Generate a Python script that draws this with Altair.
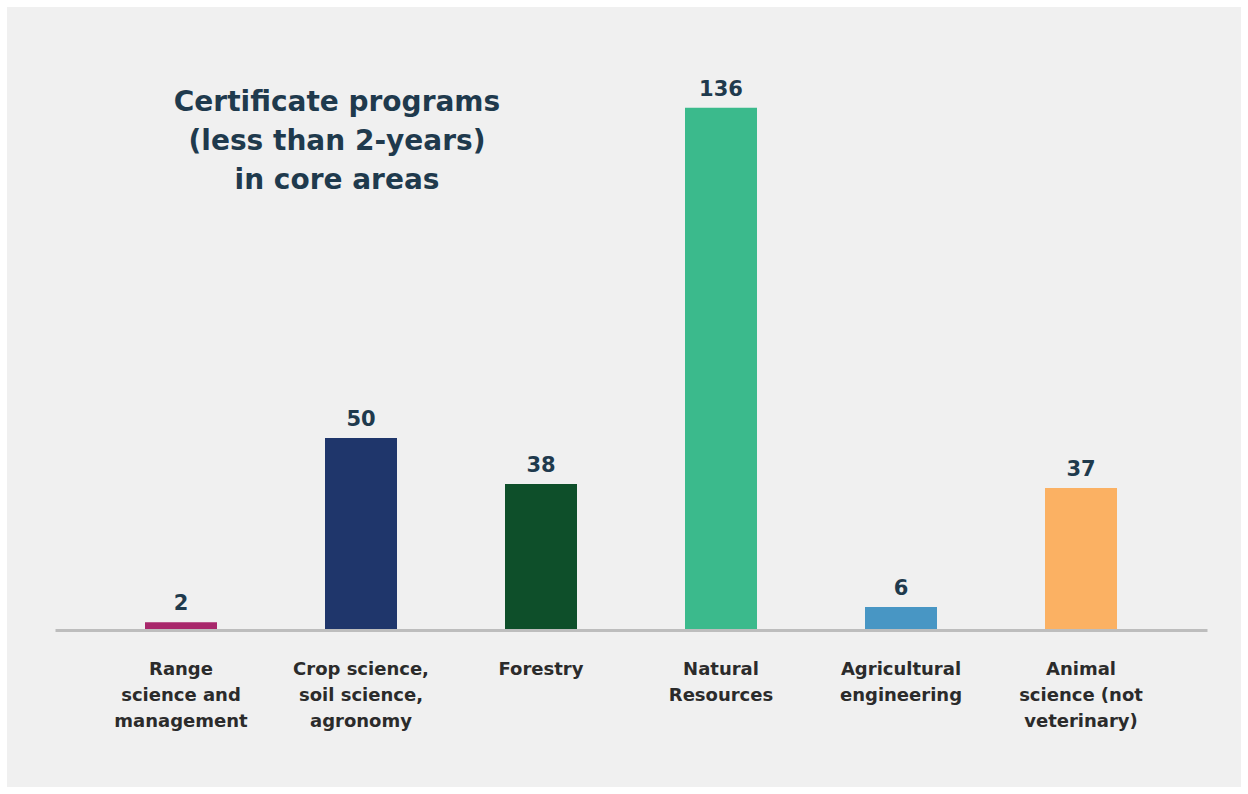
import altair as alt
import pandas as pd

categories = [
    "Range\nscience and\nmanagement",
    "Crop science,\nsoil science,\nagronomy",
    "Forestry",
    "Natural\nResources",
    "Agricultural\nengineering",
    "Animal\nscience (not\nveterinary)",
]
values = [2, 50, 38, 136, 6, 37]
colors = ["#a8276b", "#1f366b", "#0e4f2a", "#3bba8c", "#4896c4", "#fbb163"]
title_lines = ["Certificate programs", "(less than 2-years)", "in core areas"]

df = pd.DataFrame({"category": categories, "value": values, "color": colors})

FONT = "DejaVu Sans"
NAVY = "#1f3a4d"

panel = alt.Chart(pd.DataFrame({"a": [0]})).mark_rect(color="#f0f0f0").encode(
    x=alt.value(-48), x2=alt.value(1186), y=alt.value(-47), y2=alt.value(733)
)

x_enc = alt.X(
    "category:N",
    sort=categories,
    scale=alt.Scale(paddingInner=0.6, paddingOuter=0.5),
    axis=alt.Axis(
        title=None,
        labelExpr="split(datum.value, '\\n')",
        labelAngle=0,
        labelFont=FONT,
        labelFontSize=18,
        labelFontWeight="bold",
        labelColor="#2b2b2b",
        labelLineHeight=26,
        labelPadding=30,
        labelBaseline="top",
        ticks=False,
        domainColor="#bdbdbd",
        domainWidth=3,
        grid=False,
        labelLimit=300,
        zindex=1,
    ),
)
y_enc = alt.Y("value:Q", scale=alt.Scale(domain=[0, 150], nice=False), axis=None)

base = alt.Chart(df).encode(x=x_enc, y=y_enc)

bars = base.mark_bar().encode(color=alt.Color("color:N", scale=None))

labels = base.mark_text(
    font=FONT, fontSize=21, fontWeight="bold", color=NAVY, baseline="bottom", dy=-8
).encode(text="value:Q")

title = alt.Chart(pd.DataFrame({"a": [0]})).mark_text(
    text=title_lines,
    font=FONT,
    fontSize=28,
    fontWeight="bold",
    color=NAVY,
    align="center",
    baseline="top",
    lineHeight=39,
).encode(x=alt.value(282), y=alt.value(35))

chart = (
    alt.layer(panel, bars, labels, title)
    .properties(width=1152, height=576, background="white", padding=7)
    .configure_view(stroke=None)
)

chart.save("out.html", embed_options={"renderer": "svg", "actions": False})
